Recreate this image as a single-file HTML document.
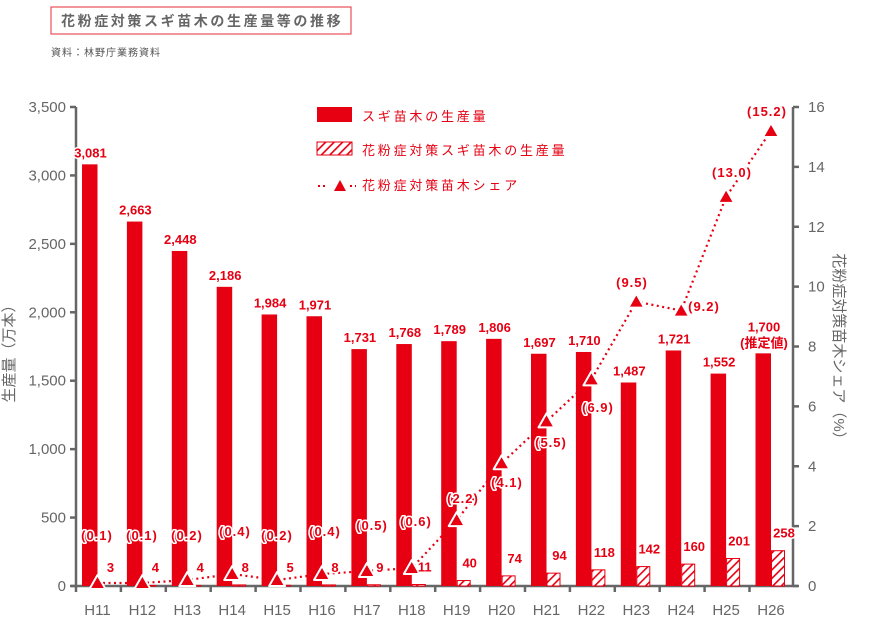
<!DOCTYPE html>
<html><head><meta charset="utf-8"><style>
html,body{margin:0;padding:0;background:#fff;}
svg{display:block;font-family:"Liberation Sans","Noto Sans CJK JP",sans-serif;}
.ax{fill:#666;font-size:15px;}
.r{fill:#e60012;font-size:13px;font-weight:bold;stroke:#fff;stroke-width:3px;paint-order:stroke;stroke-linejoin:round;}
</style></head><body>
<svg width="870" height="627" viewBox="0 0 870 627" xmlns="http://www.w3.org/2000/svg">
<defs>
<pattern id="h" patternUnits="userSpaceOnUse" width="6" height="6" patternTransform="rotate(45)">
<rect width="6" height="6" fill="#fff"/><rect x="0" y="0" width="1.6" height="6" fill="#e60012"/>
</pattern>
</defs>
<rect x="51" y="7" width="300" height="27" fill="#fff" stroke="#e8505b" stroke-width="1.2"/>
<text x="61" y="26" font-size="14" font-weight="bold" fill="#666" letter-spacing="2.6">花粉症対策スギ苗木の生産量等の推移</text>
<text x="51" y="56" font-size="10" fill="#555" letter-spacing="1">資料：林野庁業務資料</text>

<!-- legend -->
<rect x="317" y="107" width="35" height="15" fill="#e60012"/>
<text x="362" y="121" font-size="13" fill="#e60012" letter-spacing="2.8">スギ苗木の生産量</text>
<rect x="317" y="142" width="35" height="13" fill="url(#h)" stroke="#e60012" stroke-width="1"/>
<text x="362" y="155" font-size="13" fill="#e60012" letter-spacing="2.8">花粉症対策スギ苗木の生産量</text>
<line x1="318" y1="186" x2="328" y2="186" stroke="#e60012" stroke-width="2" stroke-dasharray="2,3"/>
<polygon points="334,191 340,180 346,191" fill="#e60012"/>
<line x1="350" y1="186" x2="356" y2="186" stroke="#e60012" stroke-width="2" stroke-dasharray="2,3"/>
<text x="362" y="190" font-size="13" fill="#e60012" letter-spacing="2.8">花粉症対策苗木シェア</text>

<!-- axes -->
<g stroke="#666" stroke-width="2.5" fill="none">
<line x1="76" y1="107" x2="76" y2="587"/>
<line x1="793" y1="107" x2="793" y2="587"/>
<line x1="71" y1="586" x2="798" y2="586"/>
</g>
<g stroke="#666" stroke-width="2.5" id="ticks"></g>
<g class="ax" id="ly" text-anchor="end"></g>
<g class="ax" id="ry"></g>
<g id="bars"></g>
<g id="line"></g>
<g id="labs"></g>
<g class="ax" id="xl" text-anchor="middle" style="font-size:15px"></g>

<text class="ax" transform="translate(14,350) rotate(-90)" text-anchor="middle" font-size="12">生産量（万本）</text>
<text class="ax" transform="translate(834,350) rotate(90)" text-anchor="middle" font-size="12">花粉症対策苗木シェア（%）</text>
</svg>
<script>
const NS="http://www.w3.org/2000/svg";
function el(p,t,a,txt){const e=document.createElementNS(NS,t);for(const k in a)e.setAttribute(k,a[k]);if(txt!==undefined)e.textContent=txt;document.getElementById(p).appendChild(e);return e;}
const y0=586,sL=479/3500,sR=479/16;
for(let v=0;v<=3500;v+=500){const y=y0-v*sL;el('ticks','line',{x1:70,y1:y,x2:76,y2:y});el('ly','text',{x:66,y:y+5},v.toLocaleString('en-US'));}
for(let v=0;v<=16;v+=2){const y=y0-v*sR;el('ticks','line',{x1:793,y1:y,x2:799,y2:y});el('ry','text',{x:808,y:y+5},v);}
for(let i=0;i<=15;i++){const x=76+44.9*i;el('ticks','line',{x1:x,y1:586,x2:x,y2:592});}
const A=[3081,2663,2448,2186,1984,1971,1731,1768,1789,1806,1697,1710,1487,1721,1552,1700];
const B=[3,4,4,8,5,8,9,11,40,74,94,118,142,160,201,258];
const S=[0.1,0.1,0.2,0.4,0.2,0.4,0.5,0.6,2.2,4.1,5.5,6.9,9.5,9.2,13.0,15.2];
const SL=[[97,540],[142,540],[187,540],[235,536],[277,540],[325,536],[372,530],[416,526],[463,503],[507,487],[551,447],[598,412],[632,287],[704,311],[732,177],[767,116]];
let pts=[];
for(let i=0;i<16;i++){
 const c=97.5+44.9*i;
 const ha=A[i]*sL, hb=B[i]*sL;
 el('bars','rect',{x:c-15.5,y:y0-ha,width:15.5,height:ha,fill:'#e60012'});
 if(hb>0.5) el('bars','rect',{x:c+0.5,y:y0-hb,width:13,height:hb,fill:'url(#h)',stroke:'#e60012','stroke-width':1});
 const lab=i==15?'1,700':A[i].toLocaleString('en-US');
 el('labs','text',{class:'r',x:c-7,y:(i==15?y0-ha-22:y0-ha-7),'text-anchor':'middle'},lab);
 if(i==15) el('labs','text',{class:'r',x:c-7,y:y0-ha-6,'text-anchor':'middle'},'(推定値)');
 el('labs','text',{class:'r',x:c+13,y:Math.min(y0-hb-13,572),'text-anchor':'middle'},B[i]);
 el('labs','text',{class:'r',x:SL[i][0],y:SL[i][1],'text-anchor':'middle','letter-spacing':'1'},'('+S[i].toFixed(1)+')');
 pts.push([c,y0-S[i]*sR]);
 el('xl','text',{x:c,y:615},'H'+(11+i));
}
el('line','polyline',{points:pts.map(p=>p.join(',')).join(' '),fill:'none',stroke:'#e60012','stroke-width':2.2,'stroke-dasharray':'2,3.5'});
for(const [x,y] of pts){el('line','polygon',{points:`${x-8},${y+6} ${x},${y-8} ${x+8},${y+6}`,fill:'#e60012',stroke:'#fff','stroke-width':2,'stroke-linejoin':'round'});}
</script>
</body></html>
